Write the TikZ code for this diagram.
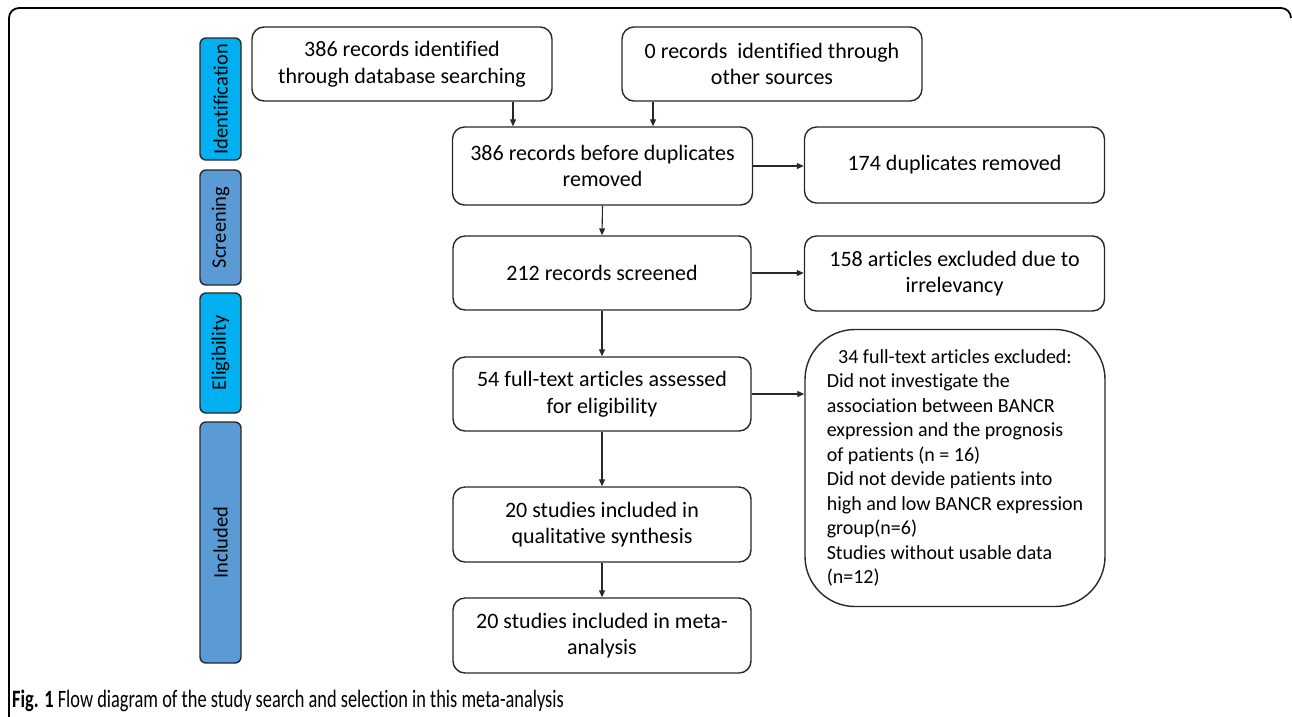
\documentclass[tikz,border=0pt]{standalone}
\usepackage{fontspec}
\usepackage{calc}
\setmainfont{Carlito}[Ligatures=NoCommon]
\newfontfamily\capfont[FakeStretch=0.735,Ligatures=NoCommon]{Carlito}
\usetikzlibrary{arrows.meta}
\definecolor{cyanbox}{RGB}{0,176,240}
\definecolor{bluebox}{RGB}{91,155,213}
\definecolor{edge}{RGB}{40,40,40}
\tikzset{
  mainbox/.style={draw=edge, line width=1.4pt, rounded corners=12pt, fill=white,
    minimum width=300pt, align=center, inner sep=0pt,
    font=\fontsize{22}{26.5}\selectfont},
  sidebox/.style={draw=edge, line width=1.4pt, rounded corners=6pt,
    minimum width=41pt, inner sep=0pt},
  sidelabel/.style={rotate=90, font=\fontsize{20.5}{24}\selectfont, inner sep=0pt},
  arr/.style={draw=edge, line width=1.1pt, -{Triangle[length=7pt,width=6pt]}}
}
\begin{document}
\begin{tikzpicture}[x=1pt,y=-1pt]
\useasboundingbox (0,0) rectangle (1292,716);
% frame
\draw[line width=1.8pt, rounded corners=10pt] (9,720) -- (9,8) -- (1291,8) -- (1291,18);

% side phase boxes
\node[sidebox, fill=cyanbox, minimum height=122pt] (sid) at (220.5,99) {};
\node[sidelabel] (sidl) at (sid.center) {Identification};
\node[sidebox, fill=bluebox, minimum height=115pt] (sscr) at (220.5,227.5) {};
\node[sidelabel] (sscrl) at (sscr.center) {Screening};
\node[sidebox, fill=cyanbox, minimum height=120pt] (selg) at (220.5,353) {};
\node[sidelabel] (selgl) at (selg.center) {Eligibility};
\node[sidebox, fill=bluebox, minimum height=241pt] (sinc) at (220.5,542.5) {};
\node[sidelabel] (sincl) at (sinc.center) {Included};

% main boxes
\node[mainbox, minimum height=74pt] (A) at (402,64) {386 records identified\\through database searching};
\node[mainbox, minimum height=74pt] (B) at (772,64) {0 records\ \ identified through\\other sources};
\node[mainbox, minimum height=78pt] (C) at (602.5,166) {386 records before duplicates\\removed};
\node[mainbox, minimum height=76pt] (D) at (954.5,165) {174 duplicates removed};
\node[mainbox, minimum height=74pt, minimum width=298pt] (E) at (602,273) {212 records screened};
\node[mainbox, minimum height=75pt] (F) at (954.5,273.5) {158 articles excluded due to\\irrelevancy};
\node[mainbox, minimum height=74pt, minimum width=298pt] (G) at (602,394) {54 full-text articles assessed\\for eligibility};
\node[mainbox, minimum height=277pt, rounded corners=50pt, align=left,
  font=\fontsize{20}{24.5}\selectfont] (H) at (955,468)
  {\makebox[\widthof{high and low BANCR expression}][c]{34 full-text articles excluded:}\\
   Did not investigate the\\
   association between BANCR\\
   expression and the prognosis\\
   of patients (n = 16)\\
   Did not devide patients into\\
   high and low BANCR expression\\
   group(n=6)\\
   Studies without usable data\\
   (n=12)};
\node[mainbox, minimum height=75pt, minimum width=298pt] (I) at (602,524.5) {20 studies included in\\qualitative synthesis};
\node[mainbox, minimum height=75pt, minimum width=298pt] (J) at (602,635.5) {20 studies included in meta-\\analysis};

% connectors
\coordinate (xa) at (513,0);
\coordinate (xb) at (653,0);
\draw[arr] (A.south -| xa) -- (C.north -| xa);
\draw[arr] (B.south -| xb) -- (C.north -| xb);
\draw[arr] (C.east) -- (C.east -| D.west);
\draw[arr] (C.south) -- (E.north);
\draw[arr] (E.east) -- (E.east -| F.west);
\draw[arr] (E.south) -- (G.north);
\draw[arr] (G.east) -- (G.east -| H.west);
\draw[arr] (G.south) -- (I.north);
\draw[arr] (I.south) -- (J.north);

% caption
\node[anchor=base west, inner sep=0pt, font=\capfont\fontsize{25}{29}\selectfont] (cap) at (12,707)
  {\textbf{Fig. 1} Flow diagram of the study search and selection in this meta-analysis};
\end{tikzpicture}
\end{document}
